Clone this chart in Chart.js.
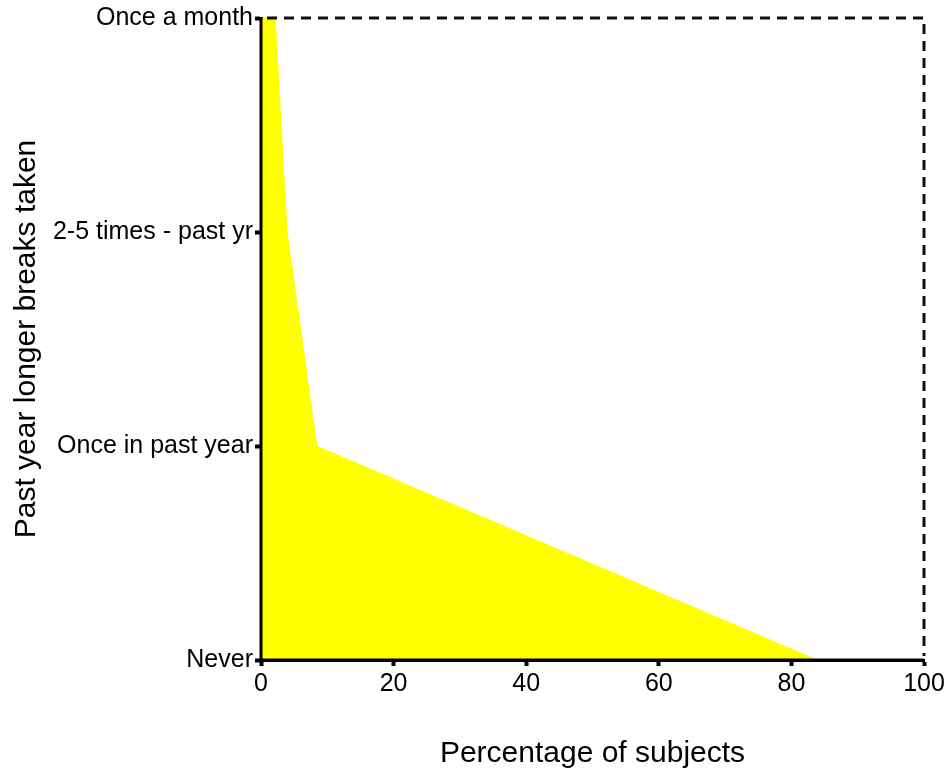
<!DOCTYPE html>
<html>
<head>
<meta charset="utf-8">
<script src="https://cdn.jsdelivr.net/npm/chart.js@4/dist/chart.umd.min.js"></script>
<style>
    html, body { margin: 0; padding: 0; background: #fff; }
    #wrap { width: 948px; height: 773px; }
</style>
</head>
<body>
<div id="wrap"><canvas id="breaksChart"></canvas></div>
<script>
// categories, top to bottom as on the y axis
const categories = ['Once a month', '2-5 times - past yr', 'Once in past year', 'Never'];
// percentage of subjects for each category
const percentages = [2.2, 4, 8.5, 84];
const xTicks = [0, 20, 40, 60, 80, 100];

const tickFont = { family: "'Liberation Sans', Arial, sans-serif", size: 25 };
const titleFont = { family: "'Liberation Sans', Arial, sans-serif", size: 30 };

// dashed frame on top/right, solid axis lines redrawn over the fill
const frameLines = {
    id: 'frameLines',
    afterDraw(chart) {
        const { ctx: c, chartArea: a } = chart;
        c.save();
        c.strokeStyle = '#111';
        c.lineWidth = 3;
        c.setLineDash([10, 7]);
        c.beginPath();
        c.moveTo(a.left + 6, a.top);
        c.lineTo(a.right, a.top);
        c.lineTo(a.right, a.bottom - 4);
        c.stroke();

        c.setLineDash([]);
        c.strokeStyle = '#000';
        c.beginPath();
        c.moveTo(a.left, a.top);
        c.lineTo(a.left, a.bottom);
        c.lineTo(a.right, a.bottom);
        c.stroke();
        c.restore();
    },
};

const ctx = document.getElementById('breaksChart').getContext('2d');

const chart = new Chart(ctx, {
    type: 'line',
    data: {
        labels: categories,
        datasets: [{
            data: percentages,
            borderWidth: 0,
            borderColor: 'rgba(0,0,0,0)',
            backgroundColor: '#ffff00',
            fill: 'origin',
            pointRadius: 0,
            tension: 0,
        }],
    },
    options: {
        indexAxis: 'y',
        responsive: true,
        maintainAspectRatio: false,
        animation: false,
        layout: { padding: { top: 18, right: 24, left: 0, bottom: 0 } },
        plugins: {
            legend: { display: false },
            tooltip: { enabled: false },
        },
        scales: {
            x: {
                type: 'linear',
                position: 'bottom',
                min: 0,
                max: 100,
                afterBuildTicks(scale) {
                    scale.ticks = xTicks.map((v) => ({ value: v }));
                },
                afterFit(scale) {
                    scale.height = 113;
                },
                ticks: { color: '#000', font: tickFont, padding: 3, maxRotation: 0 },
                grid: { display: true, drawOnChartArea: false, drawTicks: true, tickLength: 6, tickWidth: 4, tickColor: '#000' },
                border: { display: true, color: '#000', width: 3 },
                title: { display: true, text: 'Percentage of subjects', color: '#000', font: titleFont, padding: { top: 0, bottom: 1 } },
            },
            y: {
                type: 'category',
                position: 'left',
                offset: false,
                afterFit(scale) {
                    scale.width = 261;
                },
                ticks: { color: '#000', font: tickFont, padding: 2 },
                grid: { display: true, drawOnChartArea: false, drawTicks: true, tickLength: 6, tickWidth: 4, tickColor: '#000' },
                border: { display: true, color: '#000', width: 3 },
                title: { display: true, text: 'Past year longer breaks taken', color: '#000', font: titleFont, padding: { top: 9, bottom: 0 } },
            },
        },
    },
    plugins: [frameLines],
});
</script>
</body>
</html>
